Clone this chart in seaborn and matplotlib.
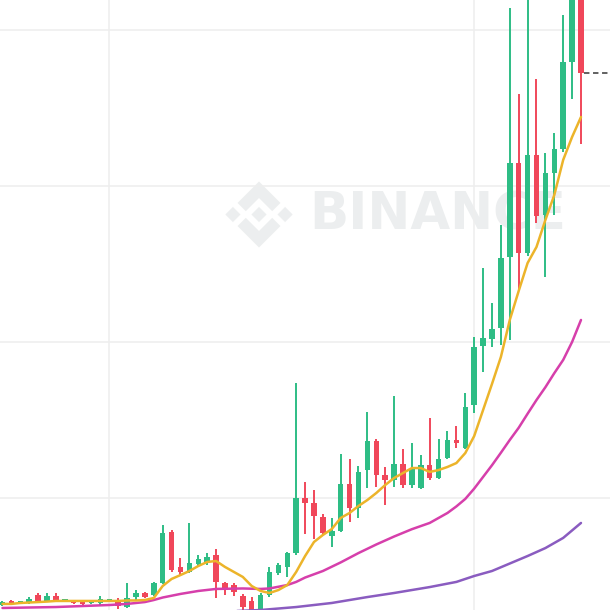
import numpy as np
import pandas as pd
import matplotlib
matplotlib.use("Agg")
import matplotlib.pyplot as plt
from matplotlib.patches import Polygon
from matplotlib.transforms import Affine2D
import seaborn as sns

# ---- data ----
opens = [0.314, 0.340, 0.327, 0.327, 0.378, 0.340, 0.372, 0.340, 0.333, 0.327,
         0.327, 0.327, 0.340, 0.346, 0.301, 0.365, 0.391, 0.378, 0.455, 0.782,
         0.558, 0.526, 0.577, 0.590, 0.635, 0.455, 0.442, 0.372, 0.340, 0.269,
         0.378, 0.519, 0.558, 0.647, 1.000, 0.968, 0.878, 0.756, 0.788, 1.090,
         0.936, 1.179, 1.365, 1.147, 1.115, 1.218, 1.083, 1.064, 1.212, 1.128,
         1.256, 1.372, 1.321, 1.596, 1.974, 2.019, 2.090, 2.545, 3.147, 2.571,
         3.199, 2.814, 3.083, 3.237, 3.795, 4.353]
highs = [0.340, 0.346, 0.340, 0.365, 0.391, 0.391, 0.391, 0.353, 0.340, 0.333,
         0.346, 0.372, 0.353, 0.359, 0.455, 0.410, 0.397, 0.462, 0.827, 0.795,
         0.615, 0.840, 0.635, 0.647, 0.673, 0.462, 0.455, 0.385, 0.365, 0.391,
         0.558, 0.583, 0.654, 1.737, 1.103, 1.051, 0.897, 0.872, 1.282, 1.250,
         1.205, 1.551, 1.378, 1.199, 1.654, 1.314, 1.353, 1.276, 1.513, 1.378,
         1.429, 1.462, 1.673, 2.032, 2.474, 2.250, 2.750, 4.141, 3.590, 4.256,
         3.686, 3.212, 3.340, 4.096, 4.450, 4.450]
lows = [0.308, 0.314, 0.321, 0.321, 0.327, 0.333, 0.333, 0.333, 0.321, 0.314,
        0.321, 0.308, 0.333, 0.288, 0.295, 0.346, 0.359, 0.372, 0.449, 0.526,
        0.506, 0.519, 0.558, 0.571, 0.359, 0.378, 0.372, 0.282, 0.256, 0.256,
        0.365, 0.506, 0.494, 0.635, 0.769, 0.737, 0.763, 0.686, 0.782, 0.846,
        0.872, 1.064, 1.071, 0.955, 1.071, 1.064, 1.064, 1.058, 1.115, 1.122,
        1.250, 1.321, 1.314, 1.545, 1.808, 1.968, 1.981, 2.013, 2.340, 2.550,
        2.763, 2.417, 2.814, 3.220, 3.558, 3.269]
closes = [0.333, 0.321, 0.330, 0.353, 0.340, 0.372, 0.340, 0.346, 0.327, 0.321,
          0.333, 0.353, 0.346, 0.308, 0.359, 0.391, 0.365, 0.455, 0.776, 0.538,
          0.526, 0.583, 0.609, 0.622, 0.462, 0.410, 0.397, 0.301, 0.269, 0.378,
          0.526, 0.571, 0.647, 1.000, 0.968, 0.885, 0.776, 0.788, 1.090, 0.936,
          1.167, 1.365, 1.147, 1.115, 1.218, 1.083, 1.186, 1.212, 1.128, 1.250,
          1.372, 1.353, 1.583, 1.968, 2.026, 2.083, 2.538, 3.147, 2.571, 3.199,
          2.808, 3.083, 3.237, 3.795, 4.353, 3.724]

ma7 = [0.321, 0.321, 0.327, 0.330, 0.333, 0.336, 0.340, 0.340, 0.340, 0.340,
       0.340, 0.340, 0.340, 0.340, 0.343, 0.343, 0.346, 0.359, 0.436, 0.481,
       0.506, 0.532, 0.564, 0.590, 0.596, 0.558, 0.526, 0.494, 0.436, 0.404,
       0.391, 0.410, 0.442, 0.526, 0.628, 0.718, 0.763, 0.801, 0.872, 0.904,
       0.949, 0.987, 1.032, 1.083, 1.128, 1.160, 1.192, 1.192, 1.167, 1.179,
       1.199, 1.224, 1.288, 1.397, 1.564, 1.731, 1.904, 2.141, 2.327, 2.506,
       2.609, 2.782, 2.942, 3.167, 3.314, 3.442]

ma25_idx = [0, 6, 12, 14, 16, 17, 18, 20, 22, 24, 27, 29, 30, 32, 33, 34, 36,
            38, 40, 42, 44, 46, 47, 48, 49, 50, 51, 52, 53, 54, 55, 56, 57, 58,
            59, 60, 61, 62, 63, 64, 65]
ma25 = [0.295, 0.301, 0.314, 0.321, 0.333, 0.346, 0.362, 0.385, 0.404, 0.417,
        0.420, 0.417, 0.420, 0.442, 0.462, 0.490, 0.532, 0.587, 0.647, 0.702,
        0.753, 0.800, 0.820, 0.840, 0.872, 0.904, 0.946, 0.994, 1.060, 1.135,
        1.210, 1.290, 1.372, 1.450, 1.540, 1.628, 1.710, 1.800, 1.885, 2.000,
        2.141]

ma99_idx = [0, 15, 22, 29, 33, 37, 41, 44, 48, 51, 53, 55, 57, 59, 61, 63, 65]
ma99 = [0.220, 0.245, 0.265, 0.282, 0.301, 0.327, 0.365, 0.391, 0.429, 0.462,
        0.500, 0.532, 0.580, 0.628, 0.679, 0.744, 0.840]

grid_prices = [1, 2, 3, 4]
grid_candles = [12, 53]

# ---- style ----
sns.set_theme(style="white")
plt.rcParams['font.family'] = ['DejaVu Sans']

GREEN = "#2ebd85"
RED = "#f0475a"
C_MA7 = "#ecb42a"
C_MA25 = "#d63fab"
C_MA99 = "#8a5cc0"
WM = "#eceeef"

fig = plt.figure(figsize=(6.1, 6.1), dpi=100, facecolor="white")
ax = fig.add_axes([0, 0, 1, 1])
ax.patch.set_facecolor("white")
ax.patch.set_edgecolor("none")
for s in ax.spines.values():
    s.set_visible(False)
ax.set_xticks([])
ax.set_yticks([])

# grid
for g in grid_prices:
    ax.axhline(g, color="#eeeeee", lw=1.1, zorder=0.5)
for g in grid_candles:
    ax.axvline(g, color="#eeeeee", lw=1.1, zorder=0.5)

# watermark (logo + text)
tr = Affine2D().scale(33 / 610).translate(259 / 610, 1 - 214.5 / 610) + ax.transAxes
d = 0.23
shapes = [
    [(0, d), (d, 0), (0, -d), (-d, 0)],
    [(-0.79, d), (-0.79 + d, 0), (-0.79, -d), (-0.79 - d, 0)],
    [(0.79, d), (0.79 + d, 0), (0.79, -d), (0.79 - d, 0)],
    [(0, 1), (0.65, 0.35), (0.4, 0.1), (0, 0.5), (-0.4, 0.1), (-0.65, 0.35)],
    [(0, -1), (0.65, -0.35), (0.4, -0.1), (0, -0.5), (-0.4, -0.1), (-0.65, -0.35)],
]
for pts in shapes:
    ax.add_patch(Polygon(pts, closed=True, facecolor=WM, edgecolor="none",
                         transform=tr, zorder=0.2))
ax.text(438 / 610, 1 - 215 / 610, "BINANCE", transform=ax.transAxes,
        ha="center", va="center", fontsize=37, fontweight="bold", color=WM,
        zorder=0.2)

# candles
x = np.arange(len(opens))
o = np.array(opens); c = np.array(closes)
h = np.array(highs); l = np.array(lows)
up = c >= o
cols = np.where(up, GREEN, RED)
ax.vlines(x, l, h, colors=cols, lw=1.4, zorder=2)
body_bottom = np.minimum(o, c)
body_h = np.maximum(np.abs(c - o), 0.012)
ax.bar(x, body_h, bottom=body_bottom, width=0.62, color=cols, linewidth=0,
       zorder=2.1)

# moving averages with seaborn
df7 = pd.DataFrame({"i": x, "v": ma7})
df25 = pd.DataFrame({"i": ma25_idx, "v": ma25})
df99 = pd.DataFrame({"i": ma99_idx, "v": ma99})
sns.lineplot(data=df99, x="i", y="v", ax=ax, color=C_MA99, lw=1.8, zorder=3)
sns.lineplot(data=df25, x="i", y="v", ax=ax, color=C_MA25, lw=1.8, zorder=3)
sns.lineplot(data=df7, x="i", y="v", ax=ax, color=C_MA7, lw=1.8, zorder=3.2)

# last price dashed line
ax.plot([x[-1] + 0.3, 70], [closes[-1], closes[-1]], color="#555555", lw=1.3,
        dashes=(3, 2), zorder=3)

ax.set_xlabel("")
ax.set_ylabel("")
ax.set_xticks([])
ax.set_yticks([])
ax.set_xlim(-0.28, 68.26)
ax.set_ylim(0.282, 4.192)

fig.savefig("out.png", dpi=100, facecolor="white")
